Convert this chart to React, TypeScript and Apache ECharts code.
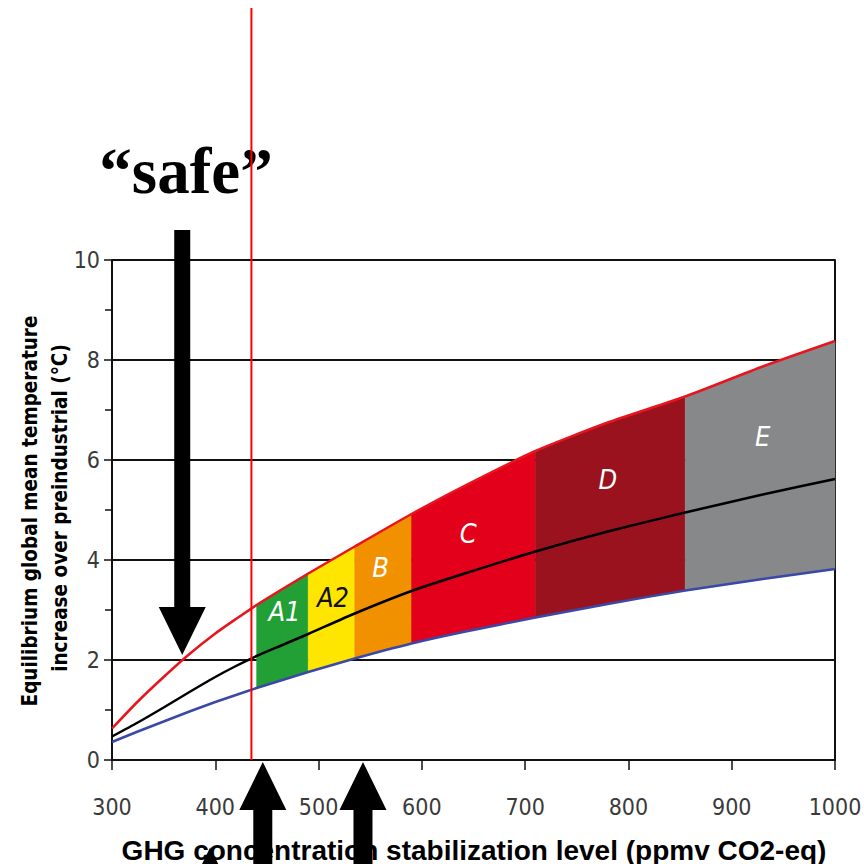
import React, { useEffect, useRef } from "react";
import * as echarts from "echarts";

// ---- data ----
const ppm = [300, 325, 350, 375, 400, 420, 440, 465, 490, 535, 590, 640, 710, 780, 855, 930, 1000];
const upperTemp = [0.63, 1.17, 1.66, 2.12, 2.53, 2.82, 3.1, 3.42, 3.73, 4.27, 4.92, 5.47, 6.18, 6.75, 7.27, 7.87, 8.38];
const bestTemp = [0.47, 0.75, 1.05, 1.36, 1.66, 1.88, 2.08, 2.3, 2.52, 2.93, 3.38, 3.72, 4.17, 4.57, 4.95, 5.31, 5.62];
const lowerTemp = [0.36, 0.57, 0.77, 0.97, 1.16, 1.3, 1.44, 1.6, 1.76, 2.03, 2.33, 2.56, 2.85, 3.12, 3.39, 3.62, 3.82];

const zoneNames = ["A1", "A2", "B", "C", "D", "E"];
const zoneFrom = [440, 490, 535, 590, 710, 855];
const zoneTo = [490, 535, 590, 710, 855, 1000];
const zoneLabelPpm = [467, 514, 560, 645, 780, 930];
const zoneLabelTemp = [2.97, 3.25, 3.85, 4.53, 5.61, 6.47];

const xTicks = [300, 400, 500, 600, 700, 800, 900, 1000];
const yTicks = [0, 2, 4, 6, 8, 10];

const thresholdPpm = 435;
const safeArrowPpm = 368;
const safeArrowTemp = 2.1;
const upArrowPpm = [446, 543];
const hiddenArrowAt = [395, -1.75];

// ---- styles ----
const zoneColors = ["#22a035", "#ffe600", "#f29100", "#e2001a", "#9a121d", "#878889"];
const zoneTextColors = ["#ffffff", "#111111", "#ffffff", "#ffffff", "#ffffff", "#ffffff"];
const NARROW = '"Liberation Sans Narrow", "Arial Narrow", "DejaVu Sans Condensed", sans-serif';
const SANS = '"Liberation Sans", Arial, Helvetica, sans-serif';
const SERIF = '"Liberation Serif", "Times New Roman", serif';

export default function App() {
  const ref = useRef<HTMLDivElement>(null);
  useEffect(() => {
    if (!ref.current) return;
    const chart = echarts.init(ref.current, null, { renderer: "svg" });

    const pair = (ys: number[]) => ppm.map((x, i) => [x, ys[i]]);

    const option: any = {
      animation: false,
      backgroundColor: "#ffffff",
      grid: { left: 112, right: 29, top: 260, bottom: 104, containLabel: false, outerBoundsMode: "none" },
      xAxis: {
        type: "value",
        min: xTicks[0],
        max: xTicks[xTicks.length - 1],
        interval: 100,
        axisLine: { show: true, lineStyle: { color: "#111", width: 2 } },
        axisTick: { show: true, length: 10, lineStyle: { color: "#111", width: 1.5 } },
        axisLabel: { color: "#3a3a3a", fontFamily: NARROW, fontSize: 23, margin: 35, formatter: (v: number) => String(v) },
        splitLine: { show: false },
      },
      yAxis: [
        {
          type: "value",
          min: yTicks[0],
          max: yTicks[yTicks.length - 1],
          interval: 2,
          axisLine: { show: true, lineStyle: { color: "#111", width: 2 } },
          axisTick: { show: true, length: 8, lineStyle: { color: "#111", width: 1.5 } },
          minorTick: { show: true, splitNumber: 2, length: 7, lineStyle: { color: "#111", width: 1.5 } },
          axisLabel: { color: "#3a3a3a", fontFamily: NARROW, fontSize: 23, margin: 12 },
          splitLine: { show: true, lineStyle: { color: "#111", width: 2 } },
        },
        {
          type: "value",
          position: "right",
          min: 0,
          max: 10,
          interval: 2,
          axisLine: { show: true, lineStyle: { color: "#111", width: 2 } },
          axisTick: { show: false },
          axisLabel: { show: false },
          splitLine: { show: false },
        },
      ],
      series: [
        {
          type: "custom",
          z: 2,
          data: zoneFrom.map((s, i) => [s, zoneTo[i], zoneLabelPpm[i], zoneLabelTemp[i]]),
          encode: { x: [0, 1, 2], y: 3 },
          renderItem: (params: any, api: any) => {
            const i = params.dataIndex;
            const s = api.value(0);
            const e = api.value(1);
            const top: number[][] = [];
            const bot: number[][] = [];
            ppm.forEach((x, k) => {
              if (x >= s && x <= e) {
                top.push(api.coord([x, upperTemp[k]]));
                bot.push(api.coord([x, lowerTemp[k]]));
              }
            });
            const pts = top.concat(bot.reverse());
            const lp = api.coord([api.value(2), api.value(3)]);
            return {
              type: "group",
              children: [
                { type: "polygon", shape: { points: pts }, style: { fill: zoneColors[i], stroke: zoneColors[i], lineWidth: 0.5 } },
                {
                  type: "text",
                  x: lp[0],
                  y: lp[1],
                  style: {
                    text: zoneNames[i],
                    fill: zoneTextColors[i],
                    font: `italic 27px ${NARROW}`,
                    align: "center",
                    verticalAlign: "middle",
                  },
                },
              ],
            };
          },
        },
        { type: "line", z: 3, data: pair(upperTemp), smooth: 0.2, symbol: "none", lineStyle: { color: "#e8141e", width: 2.5 } },
        { type: "line", z: 3, data: pair(bestTemp), smooth: 0.2, symbol: "none", lineStyle: { color: "#000000", width: 2.5 } },
        { type: "line", z: 3, data: pair(lowerTemp), smooth: 0.2, symbol: "none", lineStyle: { color: "#3a48a8", width: 2.5 } },
      ],
    };
    chart.setOption(option);

    const P = (x: number, y: number) => chart.convertToPixel({ gridIndex: 0 }, [x, y]) as number[];
    const axis0 = P(300, 0);
    const graphics: any[] = [];

    // red threshold line
    const th = P(thresholdPpm, 0);
    graphics.push({ type: "line", z: 50, shape: { x1: th[0], y1: 8, x2: th[0], y2: axis0[1] }, style: { stroke: "#ff0000", lineWidth: 2 } });

    // "safe" arrow (down)
    const tip = P(safeArrowPpm, safeArrowTemp);
    const headL = 48, headW = 47, shaftW = 16;
    graphics.push({
      type: "polygon",
      z: 60,
      shape: {
        points: [
          [tip[0] - shaftW / 2, 230],
          [tip[0] + shaftW / 2, 230],
          [tip[0] + shaftW / 2, tip[1] - headL],
          [tip[0] + headW / 2, tip[1] - headL],
          [tip[0], tip[1]],
          [tip[0] - headW / 2, tip[1] - headL],
          [tip[0] - shaftW / 2, tip[1] - headL],
        ],
      },
      style: { fill: "#000" },
    });

    // up arrows
    const upArrow = (tx: number, ty: number) => {
      const sw = 19;
      graphics.push({
        type: "polygon",
        z: 60,
        shape: {
          points: [
            [tx, ty],
            [tx + headW / 2, ty + headL],
            [tx + sw / 2, ty + headL],
            [tx + sw / 2, 870],
            [tx - sw / 2, 870],
            [tx - sw / 2, ty + headL],
            [tx - headW / 2, ty + headL],
          ],
        },
        style: { fill: "#000" },
      });
    };
    upArrowPpm.forEach((v) => {
      const t = P(v, 0);
      upArrow(t[0], t[1] + 2);
    });
    const ha = P(hiddenArrowAt[0], hiddenArrowAt[1]);
    upArrow(ha[0], ha[1]);

    // "safe"
    graphics.push({
      type: "text",
      z: 40,
      x: 186,
      y: 171,
      style: { text: "\u201Csafe\u201D", font: `bold 65px ${SERIF}`, fill: "#000", align: "center", verticalAlign: "middle" },
    });

    // axis titles
    graphics.push({
      type: "text",
      z: 40,
      x: 474,
      y: 850,
      style: { text: "GHG concentration stabilization level (ppmv CO2-eq)", font: `bold 28px ${SANS}`, fill: "#000", align: "center", verticalAlign: "middle" },
    });
    graphics.push({
      type: "text",
      z: 40,
      x: 30,
      y: 511,
      rotation: Math.PI / 2,
      style: { text: "Equilibrium global mean temperature", font: `bold 20.5px ${NARROW}`, fill: "#000", align: "center", verticalAlign: "middle" },
    });
    graphics.push({
      type: "text",
      z: 40,
      x: 60,
      y: 508,
      rotation: Math.PI / 2,
      style: { text: "increase over preindustrial (\u00B0C)", font: `bold 20.5px ${NARROW}`, fill: "#000", align: "center", verticalAlign: "middle" },
    });

    chart.setOption({ graphic: graphics });

    return () => chart.dispose();
  }, []);

  return <div ref={ref} style={{ position: "absolute", left: 0, top: 0, width: 864, height: 864 }} />;
}
